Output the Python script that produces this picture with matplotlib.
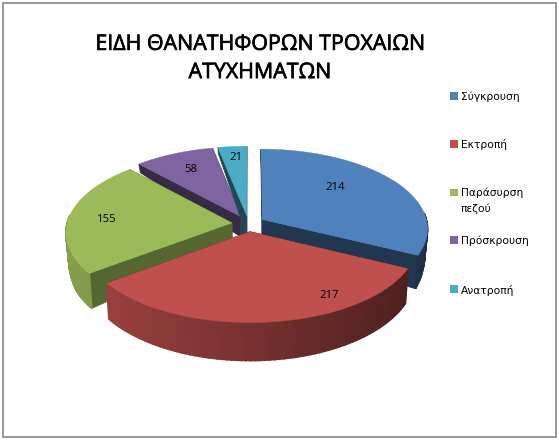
import numpy as np
import matplotlib
matplotlib.use("Agg")
import matplotlib.pyplot as plt
import matplotlib.patheffects as pe
from matplotlib.colors import to_rgb
from matplotlib.patches import Polygon, Rectangle

TITLE = "ΕΙΔΗ ΘΑΝΑΤΗΦΟΡΩΝ ΤΡΟΧΑΙΩΝ\nΑΤΥΧΗΜΑΤΩΝ"
categories = ["Σύγκρουση", "Εκτροπή", "Παράσυρση\nπεζού", "Πρόσκρουση", "Ανατροπή"]
values = [214, 217, 155, 58, 21]
colors = ["#4F81BD", "#C0504D", "#9BBB59", "#8064A2", "#4BACC6"]

# pie geometry, in figure pixels
CX, CY = 248.4, 223.7
RX, RY = 165, 79
PERSP = 0.11
EXPLODE = 0.1
BOTTOM_SHRINK = 0.985
# wall height seen from the camera, shrinks a lot towards the back
DEPTH_V = [-1.1, -0.7, -0.1, 0.4, 1.1]
DEPTH_PX = [6, 10, 20, 34, 38]
# the thin slice has a blunt tip, its dark column is this wide
BLUNT_TIP = 6.5

LABEL_XY = [(335, 187), (329, 296), (107, 219), (191, 169), (236, 158)]
LEGEND_Y = [96, 144, 192.5, 240, 289]
face_shade = [0.42, 0.42, 0.55, 0.42, 0.42]


def project(u, v, bottom=False):
    s = 1 / (1 - PERSP * v)
    k = BOTTOM_SHRINK if bottom else 1.0
    z = np.interp(v, DEPTH_V, DEPTH_PX) if bottom else 0.0
    return CX + RX * u * s * k, CY + RY * v * s + z


def shade(color, f):
    return tuple(c * f for c in to_rgb(color))


def draw_slice(ax, i, start, end):
    mid = np.radians((start + end) / 2)
    du, dv = EXPLODE * np.sin(mid), -EXPLODE * np.cos(mid)
    t = np.radians(np.linspace(start, end, 80))
    us = du + np.sin(t)
    vs = dv - np.cos(t)
    color = colors[i]

    # flat cut faces, going down from both straight edges
    for k in (0, -1):
        fc = shade(color, face_shade[i])
        pts = [project(du, dv), project(us[k], vs[k]),
               project(us[k], vs[k], True), project(du, dv, True)]
        ax.add_patch(Polygon(pts, fc=fc, ec=fc, lw=0.5))

    if end - start < 15:
        x, y = project(du, dv)
        _, y2 = project(du, dv, True)
        ax.add_patch(Rectangle((x - BLUNT_TIP, y), BLUNT_TIP, y2 - y, fc=fc, ec="none"))

    # outer wall, dark on the right and lighter on the left
    for j in range(len(t) - 1):
        # back part of the rim is hidden, and its edge would outline the top
        if -np.cos(t[j]) < -0.1:
            continue
        f = np.interp((us[j] + us[j + 1]) / 2, [-1, 1], [0.85, 0.38])
        fc = shade(color, f)
        quad = [project(us[j], vs[j]), project(us[j + 1], vs[j + 1]),
                project(us[j + 1], vs[j + 1], True), project(us[j], vs[j], True)]
        ax.add_patch(Polygon(quad, fc=fc, ec=fc, lw=1.2))

    top = [project(du, dv)] + [project(a, b) for a, b in zip(us, vs)]
    ax.add_patch(Polygon(top, fc=color, ec=color, lw=0.3))


def main():
    fig = plt.figure(figsize=(5.59, 4.41), dpi=100)
    ax = fig.add_axes([0, 0, 1, 1])
    ax.set_xlim(0, 559)
    ax.set_ylim(441, 0)
    ax.axis("off")

    ax.add_patch(Rectangle((2.5, 2.5), 553.5, 434, fc="white", ec="#868686", lw=1.2))

    edges = np.concatenate([[0], np.cumsum(values)]) / sum(values) * 360
    # back slices first, the red one sits in front of everything
    for i in [3, 4, 0, 2, 1]:
        draw_slice(ax, i, edges[i], edges[i + 1])

    for val, (x, y) in zip(values, LABEL_XY):
        ax.text(x, y, str(val), ha="center", va="center", fontsize=8.2,
                family="Open Sans", color="black")

    title = ax.text(260, 58.5, TITLE, ha="center", va="center", fontsize=15.4,
                    family="Open Sans", color="black", linespacing=1.45)
    # reference title is heavier than the regular weight
    title.set_path_effects([pe.withStroke(linewidth=0.5, foreground="black")])

    for name, color, y in zip(categories, colors, LEGEND_Y):
        ax.add_patch(Rectangle((450, y - 3.7), 7.5, 7.5, fc=color, ec="none"))
        ax.text(461, y - 4.5, name, ha="left", va="top", fontsize=7.7,
                family="DejaVu Sans", color="black", linespacing=1.64)

    fig.savefig("out.png", dpi=100, facecolor="white")
    plt.close(fig)


if __name__ == "__main__":
    main()
